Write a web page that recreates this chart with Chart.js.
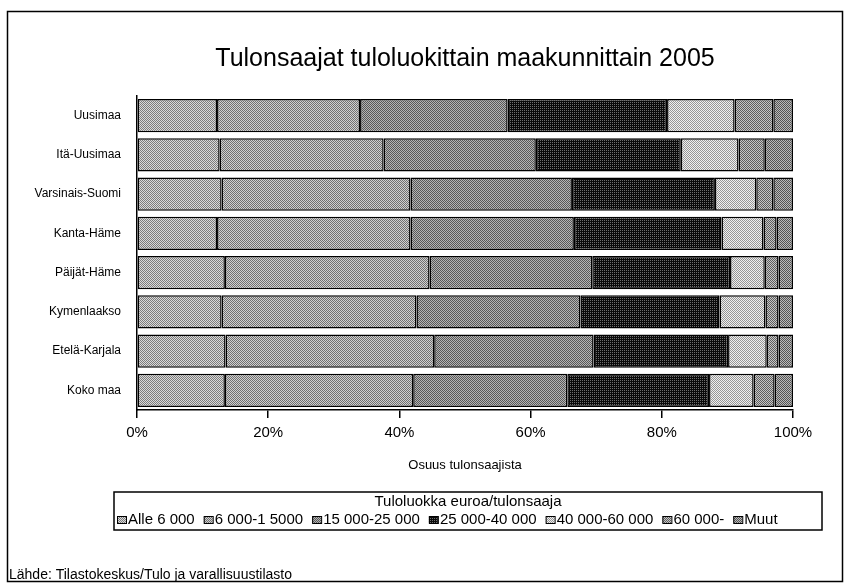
<!DOCTYPE html>
<html lang="fi">
<head>
<meta charset="utf-8">
<title>Tulonsaajat tuloluokittain maakunnittain 2005</title>
<script src="https://cdn.jsdelivr.net/npm/chart.js@4.4.1/dist/chart.umd.min.js"></script>
<style>
  html, body { margin: 0; padding: 0; background: #fff; }
  #wrap { width: 848px; height: 584px; }
</style>
</head>
<body>
<div id="wrap"><canvas id="tuloChart" width="848" height="584"></canvas></div>
<script>
// ── Data ────────────────────────────────────────────────────
const maakunnat = ['Uusimaa', 'Itä-Uusimaa', 'Varsinais-Suomi', 'Kanta-Häme',
                   'Päijät-Häme', 'Kymenlaakso', 'Etelä-Karjala', 'Koko maa'];
const tuloluokat = ['Alle 6 000', '6 000-1 5000', '15 000-25 000', '25 000-40 000',
                    '40 000-60 000', '60 000-', 'Muut'];

const alle6000 = [12.2, 12.6, 12.9, 12.2, 13.4, 12.9, 13.5, 13.4];
const t6_15    = [21.8, 25.0, 28.8, 29.5, 31.2, 29.7, 31.8, 28.7];
const t15_25   = [22.5, 23.2, 24.6, 24.9, 24.8, 25.0, 24.3, 23.5];
const t25_40   = [24.3, 22.1, 21.8, 22.5, 21.0, 21.2, 20.5, 21.6];
const t40_60   = [10.3,  8.8,  6.3,  6.4,  5.3,  7.0,  5.9,  6.8];
const yli60    = [ 5.9,  4.0,  2.6,  2.0,  2.1,  2.0,  1.8,  3.2];
const muut     = [ 3.0,  4.3,  3.0,  2.5,  2.2,  2.2,  2.2,  2.8];

const xTicks = [0, 20, 40, 60, 80, 100];

const sarjat = [alle6000, t6_15, t15_25, t25_40, t40_60, yli60, muut];

Chart.defaults.font.family = '"Liberation Sans", Arial, sans-serif';
Chart.defaults.color = '#000';

// ── Rasterikuviot (skannatun harmaasävyn jäljitelmä) ────────
function rasteri(tausta, piste, kuvio) {
  const c = document.createElement('canvas');
  c.width = c.height = 4;
  const g = c.getContext('2d');
  g.fillStyle = tausta;
  g.fillRect(0, 0, 4, 4);
  g.fillStyle = piste;
  for (let y = 0; y < 4; y++)
    for (let x = 0; x < 4; x++)
      if (kuvio(x, y)) g.fillRect(x, y, 1, 1);
  return g.createPattern(c, 'repeat');
}
const ruutu = (x, y) => (x + y) % 2 === 0;
const harva = (x, y) => x % 2 === 0 && y % 2 === 0;

const rasterit = [
  rasteri('#dadada', '#7c7c7c', ruutu),
  rasteri('#d0d0d0', '#707070', ruutu),
  rasteri('#b4b4b4', '#585858', ruutu),
  rasteri('#0a0a0a', '#6e6e6e', harva),
  rasteri('#f0f0f0', '#969696', ruutu),
  rasteri('#c6c6c6', '#5e5e5e', ruutu),
  rasteri('#bababa', '#545454', ruutu),
];

// ── Kehys, selite ja lähde ──────────────────────────────────
const kehys = {
  id: 'kehys',
  afterDraw(chart) {
    const { ctx } = chart;
    ctx.save();
    ctx.strokeStyle = '#000';
    ctx.lineWidth = 1.5;
    ctx.strokeRect(7.5, 11.5, 835, 570);

    // selite
    const lx = 114, ly = 492, lw = 708, lh = 38;
    ctx.strokeRect(lx, ly, lw, lh);
    ctx.font = '15px "Liberation Sans", Arial, sans-serif';
    ctx.fillStyle = '#000';
    ctx.textAlign = 'center';
    ctx.textBaseline = 'middle';
    ctx.fillText('Tuloluokka euroa/tulonsaaja', lx + lw / 2, ly + 10);
    ctx.textAlign = 'left';
    ctx.lineWidth = 1;
    let x = lx + 3;
    chart.data.datasets.forEach(ds => {
      ctx.fillStyle = ds.backgroundColor;
      ctx.fillRect(x, ly + 24, 9, 7);
      ctx.strokeRect(x + 0.5, ly + 24.5, 9, 7);
      ctx.fillStyle = '#000';
      ctx.fillText(ds.label, x + 11, ly + 28);
      x += 11 + ctx.measureText(ds.label).width + 9;
    });

    // lähde
    ctx.font = '14px "Liberation Sans", Arial, sans-serif';
    ctx.fillText('Lähde: Tilastokeskus/Tulo ja varallisuustilasto', 9, 575);
    ctx.restore();
  }
};

new Chart(document.getElementById('tuloChart'), {
  type: 'bar',
  data: {
    labels: maakunnat,
    datasets: sarjat.map((d, i) => ({
      label: tuloluokat[i], data: d,
      backgroundColor: rasterit[i],
      borderColor: '#000', borderWidth: 1.5, borderSkipped: false,
      barPercentage: 0.85, categoryPercentage: 1,
    })),
  },
  options: {
    indexAxis: 'y', responsive: false, animation: false, devicePixelRatio: 1,
    layout: { padding: { left: 0, right: 55, top: 0, bottom: 104 } },
    plugins: {
      legend: { display: false },
      tooltip: { enabled: false },
      title: {
        display: true, fullSize: false,
        text: 'Tulonsaajat tuloluokittain maakunnittain 2005',
        color: '#000', font: { size: 25, weight: 'normal' },
        padding: { top: 44, bottom: 22 },
      },
    },
    scales: {
      x: {
        stacked: true, min: 0, max: 100,
        border: { color: '#000', width: 1.5 },
        grid: { drawOnChartArea: false, color: '#000', tickLength: 8, lineWidth: 1.5 },
        afterBuildTicks: s => { s.ticks = xTicks.map(v => ({ value: v })); },
        ticks: { callback: v => v + '%', font: { size: 15 }, padding: 6, maxRotation: 0 },
        title: { display: true, text: 'Osuus tulonsaajista', font: { size: 13 }, padding: { top: 0, bottom: 7 } },
        afterFit: s => { s.height = 70; },
      },
      y: {
        stacked: true,
        border: { color: '#000', width: 1.5 },
        grid: { display: false },
        ticks: { font: { size: 12 }, padding: 8 },
        afterFit: s => { s.width = 137; },
      },
    },
  },
  plugins: [kehys],
});
</script>
</body>
</html>
